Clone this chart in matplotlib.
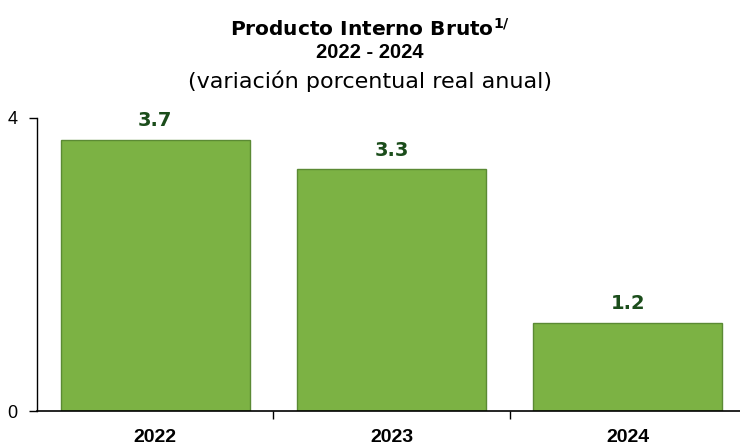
import numpy as np
import matplotlib
matplotlib.use("Agg")
import matplotlib.pyplot as plt

# Data
years = ["2022", "2023", "2024"]
growth = [3.7, 3.3, 1.2]
value_labels = ["3.7", "3.3", "1.2"]

bar_color = "#7cb244"
edge_color = "#5b8a34"
label_color = "#1b4d1b"

plt.rcParams["font.family"] = ["Liberation Sans", "DejaVu Sans"]

fig = plt.figure(figsize=(7.4, 4.45), dpi=100)
ax = fig.add_axes([37 / 740, 34 / 445, 709 / 740, 293 / 445])

x = np.arange(len(years))
bars = ax.bar(x, growth, width=0.8, color=bar_color, edgecolor=edge_color, linewidth=1)

for xi, v, lab in zip(x, growth, value_labels):
    ax.annotate(lab, (xi, v), xytext=(0, 7), textcoords="offset points",
                ha="center", va="bottom", fontsize=14, fontweight="bold",
                color=label_color, family="DejaVu Sans")

ax.set_xlim(-0.5, 2.5)
ax.set_ylim(0, 4)
ax.set_yticks([0, 4])
ax.set_yticklabels(["0", "4"], fontsize=13)
ax.set_xticks([0.5, 1.5])
ax.set_xticklabels([])
ax.tick_params(axis="x", length=6, width=1, direction="out")
ax.tick_params(axis="y", length=6, width=1, direction="out", pad=8)

for xi, yr in zip(x, years):
    ax.text(xi, -0.062, yr, transform=ax.get_xaxis_transform(), ha="center",
            va="top", fontsize=14, fontweight="bold")

for s in ["top", "right"]:
    ax.spines[s].set_visible(False)
ax.spines["left"].set_linewidth(1)
ax.spines["bottom"].set_linewidth(1.2)

# Title block
fig.text(0.5, 1 - 29 / 445, r"Producto Interno Bruto$^{\mathregular{1/}}$", ha="center",
         va="center", fontsize=14.5, fontweight="bold", family="DejaVu Sans")
fig.text(0.5, 1 - 53 / 445, "2022 - 2024", ha="center", va="center",
         fontsize=14.5, fontweight="bold")
fig.text(0.5, 1 - 81 / 445, "(variación porcentual real anual)", ha="center",
         va="center", fontsize=16, family="DejaVu Sans")

fig.savefig("out.png", dpi=100)
